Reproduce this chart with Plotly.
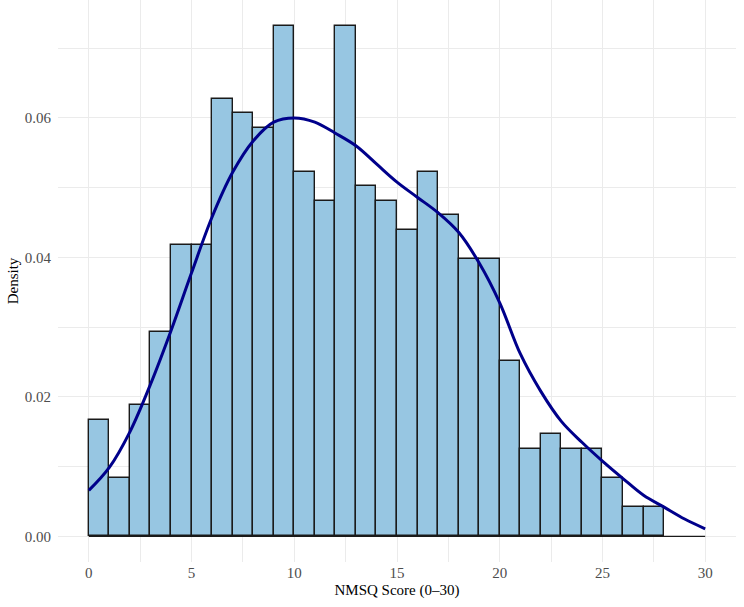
import plotly.graph_objects as go

# Histogram bins (width 1) and densities
bin_left = list(range(0, 28))
density = [0.01674, 0.00837, 0.01883, 0.02929, 0.04184, 0.04184, 0.06276, 0.06067,
           0.05858, 0.07322, 0.05230, 0.04812, 0.07322, 0.05021, 0.04812, 0.04393,
           0.05230, 0.04603, 0.03975, 0.03975, 0.02510, 0.01255, 0.01464, 0.01255,
           0.01255, 0.00837, 0.00418, 0.00418]

# Kernel density curve
kde_x = [0, 1, 2, 3, 4, 5, 6, 7, 8, 9, 10, 11, 12, 13, 14, 15, 16, 17, 18, 19,
         20, 21, 22, 23, 24, 25, 26, 27, 28, 29, 30]
kde_y = [0.0066, 0.0099, 0.0150, 0.0218, 0.0295, 0.0378, 0.0458, 0.0522, 0.0567,
         0.0594, 0.0600, 0.0594, 0.0578, 0.0560, 0.0534, 0.0508, 0.0486, 0.0464,
         0.0436, 0.0392, 0.0335, 0.0262, 0.0208, 0.0165, 0.0135, 0.0108, 0.0083,
         0.0059, 0.0042, 0.0025, 0.0011]

x_ticks = [0, 5, 10, 15, 20, 25, 30]
y_ticks = [0.00, 0.02, 0.04, 0.06]
y_tick_labels = ["0.00", "0.02", "0.04", "0.06"]

FONT = "Liberation Serif"

fig = go.Figure()
fig.add_trace(go.Bar(
    x=[b + 0.5 for b in bin_left], y=density, width=1,
    marker=dict(color="rgb(151,198,226)", line=dict(color="#1a1a1a", width=1.4)),
    showlegend=False, hoverinfo="x+y",
))
fig.add_trace(go.Scatter(
    x=[kde_x[0], kde_x[-1]], y=[0, 0], mode="lines",
    line=dict(color="#1a1a1a", width=1.2), showlegend=False, hoverinfo="skip",
))
fig.add_trace(go.Scatter(
    x=kde_x, y=kde_y, mode="lines", line=dict(color="#00008B", width=3, shape="spline", smoothing=1.0),
    showlegend=False,
))

grid = "#ebebeb"
fig.update_layout(
    width=744, height=607,
    margin=dict(l=58, r=8, t=0, b=45),
    plot_bgcolor="white", paper_bgcolor="white",
    bargap=0,
    font=dict(family=FONT, size=15, color="black"),
    xaxis=dict(
        range=[-1.5, 31.5], tickvals=x_ticks, showgrid=True, gridcolor=grid, gridwidth=1.3,
        zeroline=False, showline=False, ticks="",
        tickfont=dict(family=FONT, size=15, color="#4d4d4d"),
        minor=dict(tickvals=[2.5, 7.5, 12.5, 17.5, 22.5, 27.5], showgrid=True, gridcolor=grid, gridwidth=0.8),
        title=dict(text="NMSQ Score (0–30)", font=dict(family=FONT, size=15, color="black"), standoff=4),
    ),
    yaxis=dict(
        range=[-0.00366, 0.0769], tickvals=y_ticks, ticktext=y_tick_labels,
        showgrid=True, gridcolor=grid, gridwidth=1.3,
        zeroline=False, showline=False, ticks="outside", ticklen=3, tickcolor="rgba(0,0,0,0)",
        tickfont=dict(family=FONT, size=15, color="#4d4d4d"),
        minor=dict(tickvals=[0.01, 0.03, 0.05, 0.07], showgrid=True, gridcolor=grid, gridwidth=0.8),
        title=dict(text="Density", font=dict(family=FONT, size=15, color="black"), standoff=2),
    ),
)

fig.write_html("out.html")
